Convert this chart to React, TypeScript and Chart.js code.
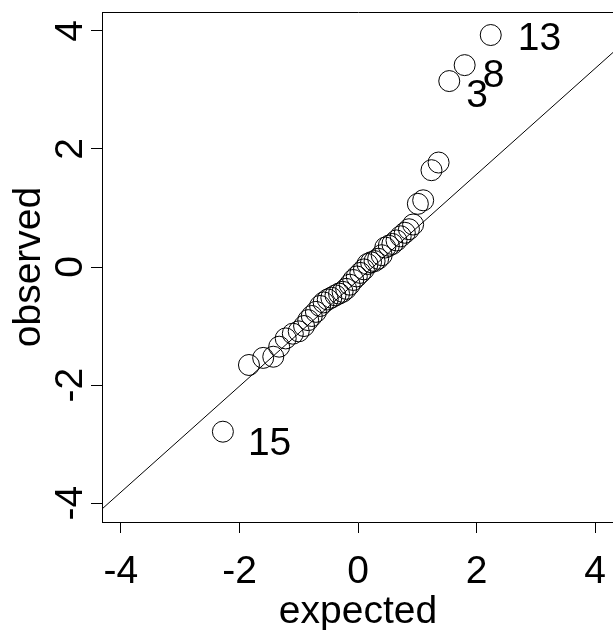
import React, { useEffect, useRef } from "react";
import { Chart, registerables } from "chart.js";

Chart.register(...registerables);

// ---- data ----
const expected = [
  -2.28, -1.84, -1.60, -1.43, -1.33, -1.22, -1.10, -1.00, -0.91, -0.84,
  -0.78, -0.71, -0.64, -0.58, -0.51, -0.45, -0.38, -0.32, -0.26, -0.20,
  -0.14, -0.08, -0.02, 0.04, 0.10, 0.16, 0.22, 0.28, 0.34, 0.40,
  0.46, 0.52, 0.58, 0.65, 0.72, 0.79, 0.86, 0.93, 1.01, 1.10,
  1.24, 1.36, 1.54, 1.80, 2.24,
];
const observed = [
  -2.79, -1.66, -1.54, -1.52, -1.35, -1.21, -1.13, -1.09, -1.00, -0.90,
  -0.83, -0.76, -0.66, -0.60, -0.55, -0.52, -0.48, -0.45, -0.42, -0.37,
  -0.30, -0.22, -0.16, -0.10, -0.04, 0.05, 0.08, 0.10, 0.14, 0.20,
  0.33, 0.36, 0.39, 0.45, 0.52, 0.58, 0.64, 0.72, 1.07, 1.13,
  1.64, 1.77, 3.15, 3.42, 3.93,
];
const refLineX = [-4.32, 4.32];
const refLineY = [-4.1, 3.65];
const xTickValues = [-4, -2, 0, 2, 4];
const xTickLabels = ["-4", "-2", "0", "2", "4"];
const yTickValues = [-4, -2, 0, 2, 4];
const yTickLabels = ["-4", "-2", "0", "2", "4"];
const pointLabelIndex = [42, 43, 44, 0];
const pointLabelText = ["3", "8", "13", "15"];
const xTitle = "expected";
const yTitle = "observed";
const axisMin = -4.32;
const axisMax = 4.32;

// ---- style ----
const FONT = "39px 'Liberation Sans', Arial, sans-serif";
const labelOffsets: Record<string, [number, number]> = {
  "3": [17, 26],
  "8": [18, 22],
  "13": [27, 15],
  "15": [25, 23],
};

const textPlugin = {
  id: "rtext",
  afterDraw(chart: any) {
    const ctx = chart.ctx as CanvasRenderingContext2D;
    const area = chart.chartArea;
    const xs = chart.scales.x;
    const ys = chart.scales.y;
    ctx.save();
    // box top & right
    ctx.strokeStyle = "#000";
    ctx.lineWidth = 1;
    ctx.beginPath();
    ctx.moveTo(Math.floor(area.left) + 0.5, Math.floor(area.top) + 0.5);
    ctx.lineTo(Math.floor(area.right) + 0.5, Math.floor(area.top) + 0.5);
    ctx.lineTo(Math.floor(area.right) + 0.5, Math.floor(area.bottom) + 0.5);
    ctx.stroke();

    ctx.fillStyle = "#000";
    ctx.font = FONT;
    ctx.textBaseline = "alphabetic";
    // x tick labels
    ctx.textAlign = "center";
    xTickValues.forEach((v, i) => {
      ctx.fillText(xTickLabels[i], xs.getPixelForValue(v), 583);
    });
    // x title
    ctx.fillText(xTitle, (area.left + area.right) / 2, 623);
    // y tick labels (rotated)
    yTickValues.forEach((v, i) => {
      ctx.save();
      ctx.translate(82, ys.getPixelForValue(v));
      ctx.rotate(-Math.PI / 2);
      ctx.textAlign = "center";
      ctx.fillText(yTickLabels[i], 0, 0);
      ctx.restore();
    });
    // y title
    ctx.save();
    ctx.translate(40, (area.top + area.bottom) / 2);
    ctx.rotate(-Math.PI / 2);
    ctx.textAlign = "center";
    ctx.fillText(yTitle, 0, 0);
    ctx.restore();
    // point labels
    ctx.textAlign = "left";
    pointLabelIndex.forEach((idx, i) => {
      const t = pointLabelText[i];
      const off = labelOffsets[t] || [20, 20];
      const px = xs.getPixelForValue(expected[idx]);
      const py = ys.getPixelForValue(observed[idx]);
      ctx.fillText(t, px + off[0], py + off[1]);
    });
    ctx.restore();
  },
};

export default function App() {
  const ref = useRef<HTMLCanvasElement | null>(null);
  useEffect(() => {
    if (!ref.current) return;
    const points = expected.map((x, i) => ({ x, y: observed[i] }));
    const line = refLineX.map((x, i) => ({ x, y: refLineY[i] }));
    const chart = new Chart(ref.current, {
      type: "scatter",
      data: {
        datasets: [
          {
            type: "line",
            data: line,
            borderColor: "#000",
            borderWidth: 1,
            pointRadius: 0,
            fill: false,
          } as any,
          {
            data: points,
            pointStyle: "circle",
            pointRadius: 10.5,
            pointHoverRadius: 10.5,
            borderColor: "#000",
            borderWidth: 1,
            backgroundColor: "rgba(0,0,0,0)",
          },
        ],
      },
      options: {
        responsive: false,
        animation: false,
        events: [],
        layout: { autoPadding: false, padding: { top: 12, right: 6, bottom: 0, left: 0 } },
        plugins: { legend: { display: false }, tooltip: { enabled: false } },
        scales: {
          x: {
            type: "linear",
            min: axisMin,
            max: axisMax,
            afterFit: (s: any) => {
              s.height = 108;
            },
            ticks: { display: false, stepSize: 2, includeBounds: false },
            grid: {
              display: true,
              drawOnChartArea: false,
              drawTicks: true,
              tickLength: 11,
              color: "#000",
              lineWidth: 1,
            },
            border: { display: true, color: "#000", width: 1 },
          },
          y: {
            type: "linear",
            min: axisMin,
            max: axisMax,
            afterFit: (s: any) => {
              s.width = 102;
            },
            ticks: { display: false, stepSize: 2, includeBounds: false },
            grid: {
              display: true,
              drawOnChartArea: false,
              drawTicks: true,
              tickLength: 11,
              color: "#000",
              lineWidth: 1,
            },
            border: { display: true, color: "#000", width: 1 },
          },
        },
      },
      plugins: [textPlugin],
    });
    return () => chart.destroy();
  }, []);
  return (
    <div
      style={{
        position: "fixed",
        left: 0,
        top: 0,
        width: 613,
        height: 630,
        overflow: "hidden",
        background: "#fff",
      }}
    >
      <canvas ref={ref} width={620} height={630} style={{ display: "block" }} />
    </div>
  );
}
